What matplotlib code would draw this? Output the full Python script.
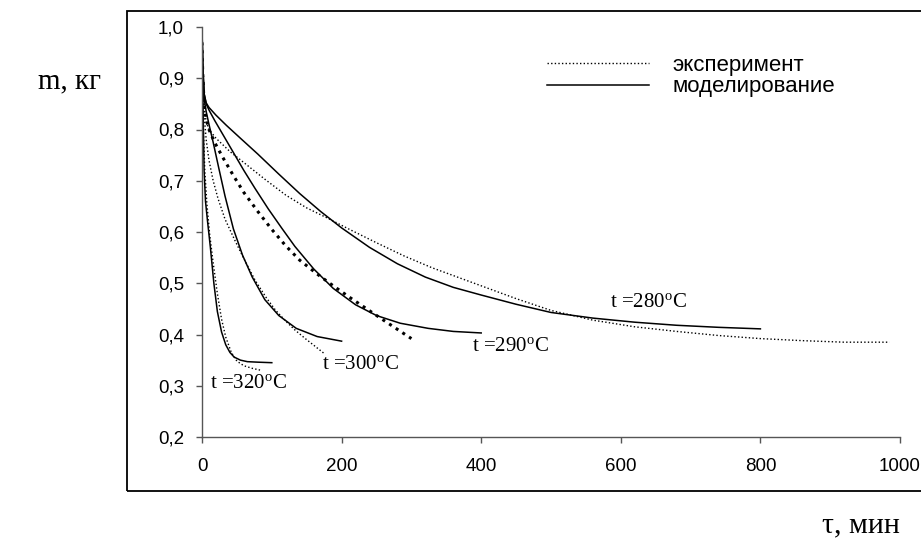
import matplotlib
matplotlib.use("Agg")
import matplotlib.pyplot as plt
import matplotlib.patches as patches
from matplotlib.ticker import FuncFormatter
from matplotlib.lines import Line2D

plt.rcParams['mathtext.fontset'] = 'custom'
plt.rcParams['mathtext.rm'] = 'Liberation Serif'
plt.rcParams['mathtext.it'] = 'Liberation Serif:italic'

# ---- data ----
t320_sim_x = [0, 1, 2, 3, 5, 8, 12, 17, 22, 28, 34, 40, 46, 55, 65, 80, 100]
t320_sim_y = [1.0, 0.90, 0.80, 0.72, 0.66, 0.62, 0.57, 0.50, 0.445, 0.405, 0.38, 0.365, 0.356, 0.350, 0.347, 0.346, 0.345]
t320_exp_x = [0, 1, 2, 4, 7, 11, 16, 22, 28, 34, 42, 50, 60, 72, 85]
t320_exp_y = [0.97, 0.88, 0.80, 0.72, 0.655, 0.595, 0.54, 0.48, 0.43, 0.395, 0.365, 0.348, 0.339, 0.334, 0.330]

t300_sim_x = [0, 1, 3, 6, 10, 16, 24, 33, 45, 58, 72, 90, 110, 135, 165, 200]
t300_sim_y = [1.0, 0.92, 0.86, 0.835, 0.81, 0.775, 0.725, 0.67, 0.606, 0.555, 0.512, 0.468, 0.437, 0.412, 0.396, 0.387]
t300_exp_x = [0, 1, 3, 6, 10, 16, 23, 33, 47, 60, 76, 92, 105, 120, 133, 148, 162, 175]
t300_exp_y = [0.97, 0.90, 0.83, 0.78, 0.74, 0.70, 0.665, 0.625, 0.584, 0.548, 0.506, 0.472, 0.448, 0.426, 0.409, 0.392, 0.377, 0.363]

t290_sim_x = [0, 1, 3, 6, 10, 18, 30, 45, 60, 76, 95, 114, 133, 160, 188, 220, 250, 284, 324, 360, 400]
t290_sim_y = [1.0, 0.93, 0.87, 0.85, 0.838, 0.818, 0.79, 0.755, 0.72, 0.685, 0.645, 0.608, 0.572, 0.528, 0.49, 0.458, 0.437, 0.422, 0.412, 0.406, 0.403]
t290_exp_x = [0, 1, 3, 6, 10, 18, 30, 45, 60, 80, 100, 120, 140, 165, 188, 212, 236, 260, 280, 300]
t290_exp_y = [0.97, 0.91, 0.85, 0.82, 0.80, 0.775, 0.745, 0.71, 0.677, 0.64, 0.605, 0.573, 0.545, 0.518, 0.495, 0.472, 0.45, 0.428, 0.41, 0.392]

t280_sim_x = [0, 1, 3, 6, 10, 20, 35, 55, 80, 110, 140, 170, 200, 240, 280, 320, 360, 400, 450, 500, 560, 620, 680, 740, 800]
t280_sim_y = [1.0, 0.93, 0.87, 0.852, 0.843, 0.828, 0.808, 0.783, 0.752, 0.713, 0.675, 0.640, 0.608, 0.570, 0.538, 0.512, 0.492, 0.477, 0.459, 0.443, 0.432, 0.424, 0.418, 0.414, 0.411]
t280_exp_x = [0, 1, 3, 6, 10, 20, 40, 65, 90, 120, 150, 180, 210, 250, 290, 330, 370, 410, 450, 500, 560, 620, 680, 740, 800, 860, 920, 985]
t280_exp_y = [0.97, 0.91, 0.845, 0.815, 0.80, 0.783, 0.757, 0.73, 0.703, 0.672, 0.647, 0.627, 0.606, 0.579, 0.553, 0.53, 0.51, 0.49, 0.47, 0.447, 0.428, 0.415, 0.406, 0.398, 0.392, 0.388, 0.385, 0.385]

x_ticks = [0, 200, 400, 600, 800, 1000]
y_ticks = [0.2, 0.3, 0.4, 0.5, 0.6, 0.7, 0.8, 0.9, 1.0]
legend_labels = ["эксперимент", "моделирование"]
curve_labels = ["t =280$^{\\rm o}$C", "t =290$^{\\rm o}$C", "t =300$^{\\rm o}$C", "t =320$^{\\rm o}$C"]
curve_label_pos = [(585, 0.453), (387, 0.367), (172, 0.333), (11, 0.296)]

W, H = 921, 549
fig = plt.figure(figsize=(W / 100, H / 100), dpi=100)
ax = fig.add_axes([202 / W, 1 - 437 / H, (900 - 202) / W, (437 - 27) / H])

sans = 'Liberation Sans'
serif = 'Liberation Serif'

lw_s = 1.1
lw_d = 1.0
dot = (0, (1, 1.6))
ax.plot(t280_exp_x, t280_exp_y, color='black', lw=lw_d, ls=dot)
ax.plot(t280_sim_x, t280_sim_y, color='black', lw=lw_s)
ax.plot(t290_exp_x, t290_exp_y, color='black', lw=2.2, ls=dot)
ax.plot(t290_sim_x, t290_sim_y, color='black', lw=lw_s)
ax.plot(t300_exp_x, t300_exp_y, color='black', lw=lw_d, ls=dot)
ax.plot(t300_sim_x, t300_sim_y, color='black', lw=lw_s)
ax.plot(t320_exp_x, t320_exp_y, color='black', lw=lw_d, ls=dot)
ax.plot(t320_sim_x, t320_sim_y, color='black', lw=lw_s)

ax.set_xlim(0, 1000)
ax.set_ylim(0.2, 1.0)
ax.set_xticks(x_ticks)
ax.set_yticks(y_ticks)
ax.yaxis.set_major_formatter(FuncFormatter(lambda v, p: f"{v:.1f}".replace('.', ',')))
ax.xaxis.set_major_formatter(FuncFormatter(lambda v, p: f"{int(round(v))}"))
for s in ['top', 'right']:
    ax.spines[s].set_visible(False)
for s in ['left', 'bottom']:
    ax.spines[s].set_color('#555555')
    ax.spines[s].set_linewidth(1.0)
ax.tick_params(direction='out', length=4, width=1.0, color='#555555', labelsize=13.5)
ax.tick_params(axis='y', pad=9)
ax.tick_params(axis='x', pad=11)
for lab in ax.get_xticklabels() + ax.get_yticklabels():
    lab.set_fontfamily(sans)

# legend
handles = [Line2D([], [], color='black', lw=lw_d, ls=dot),
           Line2D([], [], color='black', lw=lw_s)]
leg = fig.legend(handles, legend_labels, loc='upper left',
                 bbox_to_anchor=(547 / W, 1 - 55 / H), frameon=False,
                 prop={'family': sans, 'size': 16}, handlelength=4.6,
                 handletextpad=1.04, borderpad=0, borderaxespad=0, labelspacing=0.02)

for txt, (xx, yy) in zip(curve_labels, curve_label_pos):
    ax.text(xx, yy, txt, fontsize=15, family=serif, ha='left', va='baseline')

fig.text(38 / W, 1 - 88 / H, "m, кг", fontsize=21, family=serif, ha='left', va='baseline')
fig.text(822 / W, 1 - 532 / H, "τ, мин", fontsize=21.5, family=serif, ha='left', va='baseline')

rect = patches.Rectangle((127 / W, 1 - 491 / H), 1.0, (491 - 11) / H, transform=fig.transFigure,
                         fill=False, edgecolor='black', lw=1.3, clip_on=False)
fig.add_artist(rect)

fig.savefig("out.png", dpi=100)
